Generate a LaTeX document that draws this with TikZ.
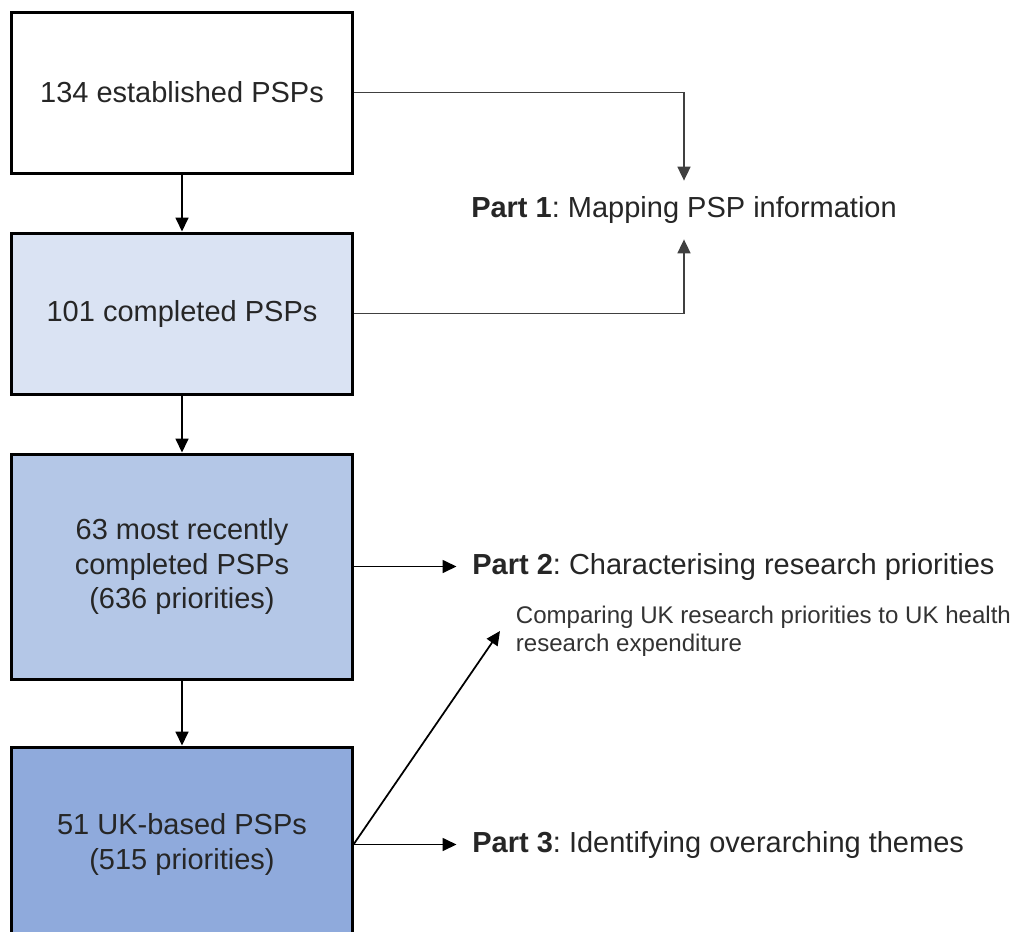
\documentclass[tikz,border=0pt]{standalone}
\usepackage{fontspec}
\setmainfont{Liberation Sans}
\usetikzlibrary{positioning,arrows.meta}

\definecolor{lightblue}{HTML}{DAE3F3}
\definecolor{midblue}{HTML}{B4C7E7}
\definecolor{darkblue}{HTML}{8FAADC}

\frenchspacing

\begin{document}
\begin{tikzpicture}[
    box/.style={draw,line width=0.06cm,minimum width=6.8cm,align=center,
                text=black!85,font=\fontsize{16.5}{19.9}\selectfont},
    part/.style={inner sep=0.3cm,text=black!85,font=\fontsize{16.5}{19.9}\selectfont},
    note/.style={inner sep=0.3cm,align=left,text=black!80,font=\fontsize{13.7}{15.9}\selectfont},
    >={Triangle[length=0.28cm,width=0.26cm]},
    line width=0.035cm]
    \useasboundingbox (0,0) rectangle (20.34,-18.64);

    % the four stages, top to bottom
    \node[box,minimum height=3.22cm]                (b1) at (3.64,-1.85)  {134 established PSPs};
    \node[box,minimum height=3.22cm,fill=lightblue] (b2) [below=1.14cm of b1] {101 completed PSPs};
    \node[box,minimum height=4.5cm,fill=midblue]    (b3) [below=1.14cm of b2] {63 most recently\\completed PSPs\\(636 priorities)};
    \node[box,minimum height=3.9cm,fill=darkblue]   (b4) [below=1.3cm of b3] {51 UK-based PSPs\\(515 priorities)};

    % the three parts of the study
    \node[part]            (p1) at (13.68,-4.2)      {\textbf{Part 1}: Mapping PSP information};
    \node[part]            (p2) [right=2.06cm of b3] {\textbf{Part 2}: Characterising research priorities};
    \node[part]            (p3) [right=2.06cm of b4] {\textbf{Part 3}: Identifying overarching themes};
    \node[note,anchor=west] (cmp) at (10.0,-12.62)   {Comparing UK research priorities to UK health\\research expenditure};

    \path[->] (b1) edge (b2)
              (b2) edge (b3)
              (b3) edge (b4)
                   edge (p2)
              (b4) edge (p3)
              (b4.east) edge (cmp.west);
    \draw[->,black!75] (b1) -| (p1);
    \draw[->,black!75] (b2) -| (p1);
\end{tikzpicture}
\end{document}
